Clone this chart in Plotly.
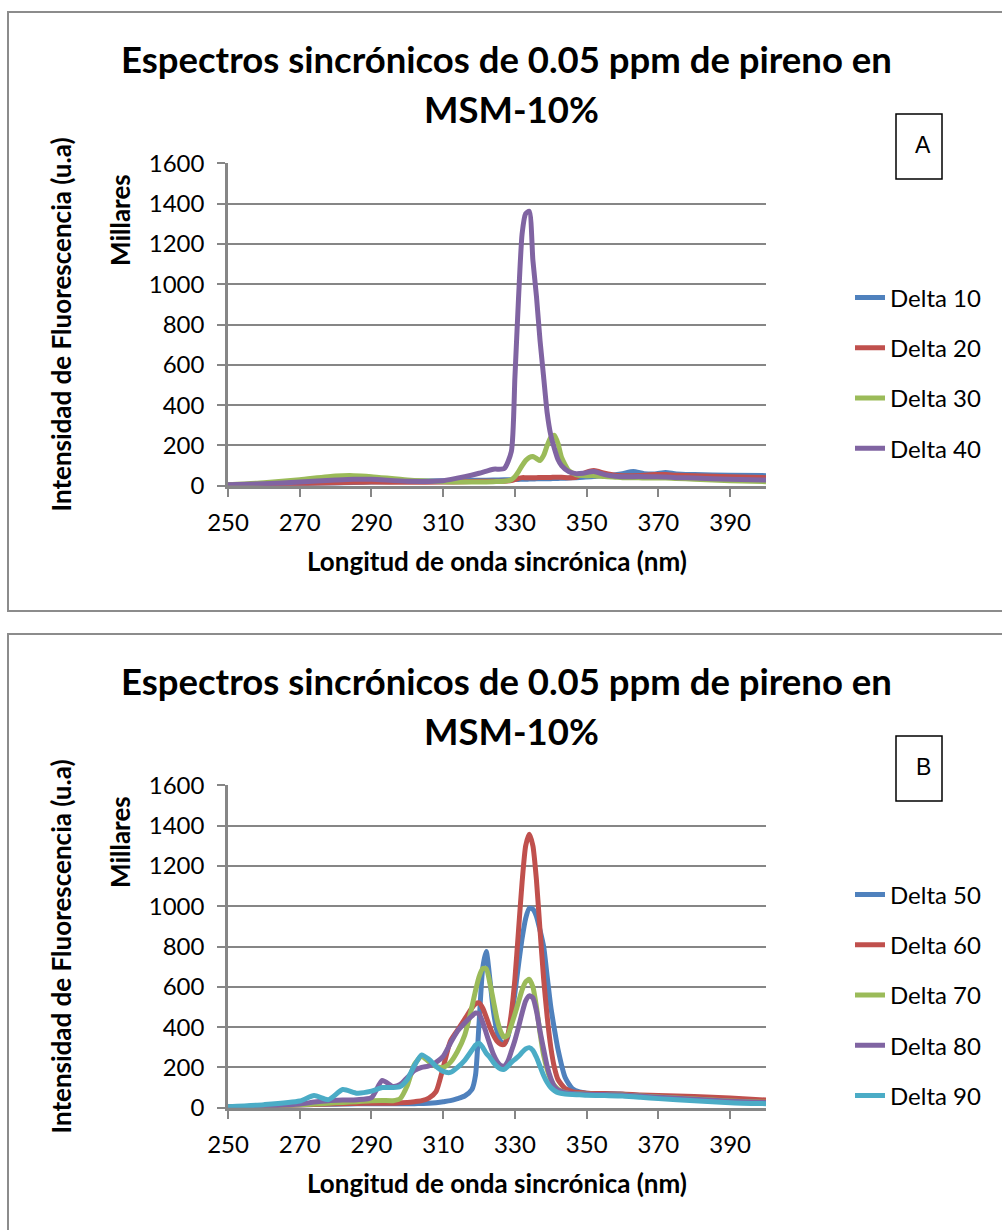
import plotly.graph_objects as go

# ---------------- data ----------------
# Panel A: synchronous spectra, deltas 10-40 (intensity in thousands)
wl_a = [250, 260, 270, 280, 285, 290, 300, 310, 316, 320, 324, 327, 329,
        330, 331, 332, 333, 334, 335, 336, 337, 338, 339, 340, 341, 342, 343,
        345, 347, 349, 352, 355, 358, 360, 363, 366, 369, 372, 375, 380, 390, 400]

delta10 = [3, 6, 10, 14, 16, 18, 22, 25, 26, 27, 28, 29, 30,
           31, 31, 32, 32, 33, 33, 34, 34, 35, 35, 35, 36, 36, 37,
           38, 40, 42, 45, 50, 55, 60, 70, 60, 58, 66, 58, 55, 52, 50]

delta20 = [3, 6, 10, 15, 17, 18, 17, 18, 20, 22, 22, 22, 25,
           30, 36, 40, 40, 40, 40, 40, 41, 41, 41, 41, 42, 42, 42,
           40, 42, 60, 75, 62, 52, 50, 50, 52, 55, 55, 52, 50, 45, 40]

delta30 = [5, 15, 30, 48, 50, 45, 28, 20, 18, 18, 20, 22, 30,
           45, 70, 100, 125, 140, 145, 135, 125, 150, 200, 240, 250, 210, 140,
           75, 55, 50, 50, 45, 42, 40, 40, 38, 38, 38, 36, 32, 25, 20]

delta40 = [5, 10, 18, 28, 32, 32, 22, 25, 45, 62, 82, 85, 170,
           540, 930, 1250, 1350, 1362, 1120, 940, 720, 540, 360, 250, 185, 130, 100,
           70, 60, 62, 70, 55, 47, 45, 45, 45, 44, 43, 40, 38, 32, 28]

# Panel B: synchronous spectra, deltas 50-90 (intensity in thousands)
wl_b = [250, 260, 270, 274, 278, 282, 286, 290, 293, 296, 298, 300, 302, 304,
        306, 308, 310, 312, 314, 316, 318, 319, 320, 321, 322, 323, 324, 325,
        326, 327, 328, 329, 330, 331, 332, 333, 334, 335, 336, 337, 338, 339,
        340, 341, 342, 344, 346, 348, 350, 355, 360, 365, 370, 380, 390, 400]

delta50 = [3, 8, 14, 16, 17, 18, 19, 20, 20, 20, 20, 20, 20, 21,
           22, 25, 30, 35, 45, 58, 90, 160, 420, 690, 775, 640, 480, 380,
           330, 315, 350, 440, 570, 710, 840, 940, 990, 985, 950, 880, 800, 650,
           500, 390, 290, 150, 95, 78, 72, 70, 67, 60, 52, 42, 32, 25]

delta60 = [3, 8, 14, 16, 18, 20, 21, 22, 22, 22, 24, 26, 30, 35,
           48, 80, 200, 330, 385, 440, 495, 515, 520, 495, 450, 400, 360, 330,
           315, 314, 360, 470, 640, 880, 1120, 1300, 1357, 1300, 1130, 880, 640, 450,
           300, 200, 140, 95, 80, 75, 72, 70, 68, 63, 60, 55, 48, 38]

delta70 = [3, 8, 15, 18, 22, 26, 30, 35, 36, 35, 45, 110, 215, 255,
           228, 205, 200, 225, 280, 360, 500, 580, 650, 690, 690, 620, 530, 440,
           380, 350, 360, 410, 465, 525, 585, 625, 637, 600, 500, 370, 260, 190,
           140, 110, 92, 75, 70, 68, 67, 65, 63, 58, 53, 43, 33, 27]

delta80 = [3, 8, 18, 28, 35, 38, 40, 50, 135, 105, 115, 150, 185, 200,
           207, 225, 255, 320, 380, 420, 455, 470, 465, 425, 370, 315, 265, 230,
           210, 207, 230, 280, 335, 400, 470, 530, 555, 545, 480, 380, 290, 205,
           145, 105, 88, 74, 70, 68, 67, 65, 63, 58, 52, 42, 32, 26]

delta90 = [5, 15, 33, 60, 40, 90, 72, 82, 100, 100, 105, 140, 210, 262,
           240, 205, 180, 175, 200, 235, 285, 310, 320, 300, 270, 250, 225, 205,
           192, 190, 205, 225, 240, 255, 275, 292, 298, 285, 250, 205, 160, 125,
           100, 85, 75, 68, 65, 64, 62, 60, 58, 52, 45, 35, 25, 20]

names_a = ["Delta 10", "Delta 20", "Delta 30", "Delta 40"]
names_b = ["Delta 50", "Delta 60", "Delta 70", "Delta 80", "Delta 90"]
colors = ["#4F81BD", "#C0504D", "#9BBB59", "#8064A2", "#4BACC6"]

x_ticks = [250, 270, 290, 310, 330, 350, 370, 390]
chart_title = "Espectros sincrónicos de 0.05 ppm de pireno en"
chart_title2 = "MSM-10%"
x_title = "Longitud de onda sincrónica (nm)"
y_title = "Intensidad de Fluorescencia (u.a)"
units_label = "Millares"
panel_labels = ["A", "B"]

# ---------------- figure ----------------
W, H = 1002, 1230
FONT = "Lato, Carlito, Calibri, sans-serif"
GRID = "#868686"


def px(x):
    return x / W


def py(y):
    return 1 - y / H


fig = go.Figure()

for name, vals, col in zip(names_a, [delta10, delta20, delta30, delta40], colors):
    fig.add_trace(go.Scatter(
        x=wl_a, y=vals, name=name, mode="lines",
        line=dict(color=col, width=5, shape="spline", smoothing=0.6),
        xaxis="x", yaxis="y", legend="legend", legendgroup=name))

for name, vals, col in zip(names_b, [delta50, delta60, delta70, delta80, delta90], colors):
    fig.add_trace(go.Scatter(
        x=wl_b, y=vals, name=name, mode="lines",
        line=dict(color=col, width=5, shape="spline", smoothing=0.6),
        xaxis="x2", yaxis="y2", legend="legend2", legendgroup=name))

# panel geometry (pixel rows of the plotting areas)
panel_offset = 622
plot_top, plot_bot = 163.3, 485.7
plot_left, plot_right = 228, 766

tick_font = dict(family=FONT, size=24, color="black")
title_font = dict(family=FONT, size=26, color="black", weight="bold")


def xaxis_cfg(anchor):
    return dict(
        domain=[px(plot_left), px(plot_right)], anchor=anchor, automargin=False,
        range=[250, 400], tickvals=x_ticks, ticks="outside", ticklen=9,
        tickwidth=2, tickcolor=GRID, showline=True, linecolor=GRID, linewidth=2.5,
        showgrid=False, zeroline=False, tickfont=tick_font, ticklabelstandoff=5,
        title=dict(text=x_title, font=title_font, standoff=18), fixedrange=True)


def yaxis_cfg(anchor, off):
    return dict(
        domain=[py(plot_bot + off), py(plot_top + off)], anchor=anchor, automargin=False,
        range=[0, 1600], dtick=200, ticks="outside", ticklen=8, tickwidth=2,
        tickcolor=GRID, showline=True, linecolor=GRID, linewidth=2.5,
        showgrid=True, gridcolor=GRID, gridwidth=1.5, zeroline=False,
        tickfont=tick_font, ticklabelstandoff=8,
        title=dict(text=y_title, font=title_font, standoff=70), fixedrange=True)


legend_common = dict(
    xanchor="left", yanchor="middle", font=dict(family=FONT, size=24, color="black"),
    traceorder="grouped", tracegroupgap=16, bgcolor="rgba(0,0,0,0)", itemwidth=30)

shapes = []
annotations = []
for i, lab in enumerate(panel_labels):
    off = i * panel_offset
    # outer chart frame
    shapes.append(dict(type="rect", xref="paper", yref="paper",
                       x0=px(8), x1=px(1010), y0=py(611 + off), y1=py(12 + off),
                       line=dict(color="#8C8C8C", width=2)))
    # panel tag box
    shapes.append(dict(type="rect", xref="paper", yref="paper",
                       x0=px(896), x1=px(942), y0=py(179 + off), y1=py(114 + off),
                       line=dict(color="black", width=1.5)))
    annotations.append(dict(text=lab, xref="paper", yref="paper", x=px(923), y=py(145 + off),
                            showarrow=False, xanchor="center", yanchor="middle",
                            font=dict(family="Liberation Sans, Arial, sans-serif", size=23, color="black")))
    annotations.append(dict(text=chart_title, xref="paper", yref="paper", x=px(506), y=py(59 + off),
                            showarrow=False, xanchor="center", yanchor="middle",
                            font=dict(family=FONT, size=36.5, color="black", weight="bold")))
    annotations.append(dict(text=chart_title2, xref="paper", yref="paper", x=px(512), y=py(109 + off),
                            showarrow=False, xanchor="center", yanchor="middle",
                            font=dict(family=FONT, size=36.5, color="black", weight="bold")))
    annotations.append(dict(text=units_label, xref="paper", yref="paper", x=px(120), y=py(220 + off),
                            showarrow=False, xanchor="center", yanchor="middle", textangle=-90,
                            font=title_font))

fig.update_layout(
    width=W, height=H, margin=dict(l=0, r=0, t=0, b=0, autoexpand=False),
    paper_bgcolor="white", plot_bgcolor="white",
    xaxis=xaxis_cfg("y"), yaxis=yaxis_cfg("x", 0),
    xaxis2=xaxis_cfg("y2"), yaxis2=yaxis_cfg("x2", panel_offset),
    legend=dict(x=px(850), y=py(373), **legend_common),
    legend2=dict(x=px(850), y=py(373 + panel_offset), **legend_common),
    shapes=shapes, annotations=annotations, showlegend=True,
)

fig.write_html("out.html")
